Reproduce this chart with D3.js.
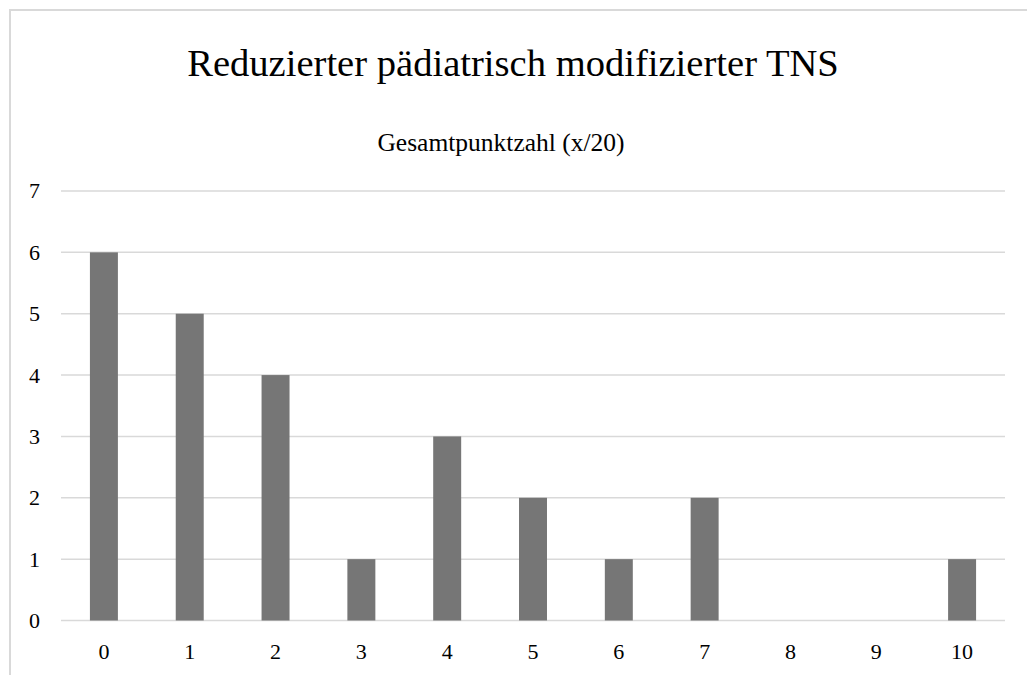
<!doctype html>
<html lang="de">
<head>
    <meta charset="utf-8">
    <script src="https://d3js.org/d3.v7.min.js"></script>
    <style type="text/css">
        body {
            padding: 0;
            margin: 0;
            background: #fff;
        }

        svg text {
            font-family: 'Liberation Serif', 'Times New Roman', Times, serif;
            fill: #000;
        }

        .grid line {
            stroke: #d9d9d9;
            stroke-width: 1.5px;
        }

        .bar {
            fill: #767676;
        }
    </style>
</head>
<body>
    <div id="chart"></div>
    <script type="text/javascript">

        var categories = ["0", "1", "2", "3", "4", "5", "6", "7", "8", "9", "10"];
        var counts = [6, 5, 4, 1, 3, 2, 1, 2, 0, 0, 1];
        var yTicks = [0, 1, 2, 3, 4, 5, 6, 7];

        var width = 1027,
            height = 675;

        var margin = { top: 191, left: 61, right: 22, bottom: 53 };

        var svg = d3.select("#chart").append("svg")
            .attr("width", width)
            .attr("height", height);

        // chart frame, it runs off the right and bottom edge
        svg.append("rect")
            .attr("x", 10)
            .attr("y", 10)
            .attr("width", 1040)
            .attr("height", 700)
            .attr("fill", "none")
            .attr("stroke", "#d9d9d9")
            .attr("stroke-width", 2);

        var x = d3.scaleBand()
            .domain(categories)
            .range([margin.left, width - margin.right])
            .paddingInner(0.674)
            .paddingOuter(0.337);

        var y = d3.scaleLinear()
            .domain([0, 7])
            .range([height - margin.bottom - 1.5, margin.top]);

        // gridlines
        svg.append("g")
            .attr("class", "grid")
            .selectAll("line")
            .data(yTicks)
            .enter().append("line")
            .attr("x1", margin.left)
            .attr("x2", width - margin.right)
            .attr("y1", function (d) { return y(d); })
            .attr("y2", function (d) { return y(d); });

        // bars
        svg.append("g")
            .selectAll("rect")
            .data(counts)
            .enter().append("rect")
            .attr("class", "bar")
            .attr("x", function (d, i) { return x(categories[i]); })
            .attr("width", x.bandwidth())
            .attr("y", function (d) { return y(d); })
            .attr("height", function (d) { return y(0) - y(d); });

        // y axis labels
        svg.append("g")
            .selectAll("text")
            .data(yTicks)
            .enter().append("text")
            .attr("x", 40)
            .attr("y", function (d) { return y(d); })
            .attr("dy", "0.34em")
            .attr("text-anchor", "end")
            .attr("font-size", 22)
            .text(function (d) { return d; });

        // x axis labels
        svg.append("g")
            .selectAll("text")
            .data(categories)
            .enter().append("text")
            .attr("x", function (d) { return x(d) + x.bandwidth() / 2; })
            .attr("y", 659)
            .attr("text-anchor", "middle")
            .attr("font-size", 22)
            .text(function (d) { return d; });

        svg.append("text")
            .attr("x", 513)
            .attr("y", 76)
            .attr("text-anchor", "middle")
            .attr("font-size", 38.6)
            .text("Reduzierter pädiatrisch modifizierter TNS");

        svg.append("text")
            .attr("x", 501)
            .attr("y", 151)
            .attr("text-anchor", "middle")
            .attr("font-size", 25.5)
            .text("Gesamtpunktzahl (x/20)");

    </script>
</body>
</html>
